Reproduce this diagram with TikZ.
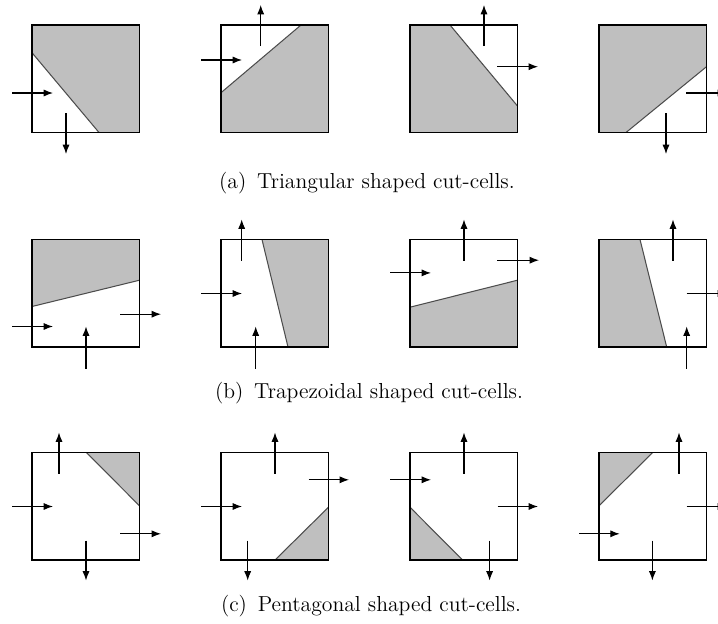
\documentclass[tikz,border=0pt]{standalone}
\usetikzlibrary{arrows.meta}
\begin{document}
\begin{tikzpicture}[x=0.53pt, y=-0.53pt,
  cell/.style={draw, line width=0.6pt},
  cutcell/.style={fill=black!25},
  cutline/.style={draw=black!70, line width=0.55pt},
  flux/.style={-{Latex[length=5pt,width=3.8pt]}, line width=0.55pt},
  caption/.style={font=\fontsize{11.5}{14}\selectfont, anchor=center}]
\useasboundingbox (0,0) rectangle (718,623);

% (a) triangular cut-cells
\begin{scope}[shift={(32,25)}]
\fill[cutcell] (0,27.7) -- (0,0) -- (107.5,0) -- (107.5,107.5) -- (67,107.5) -- cycle;
\draw[cutline] (0,27.7) -- (67,107.5);
\draw[cell] (0,0) rectangle (107.5,107.5);
\draw[flux] (-20,68) -- (21,68);
\draw[flux] (34,88) -- (34,129);
\end{scope}
\begin{scope}[shift={(221,25)}]
\fill[cutcell] (0,67.7) -- (80,0) -- (107.5,0) -- (107.5,107.5) -- (0,107.5) -- cycle;
\draw[cutline] (0,67.7) -- (80,0);
\draw[cell] (0,0) rectangle (107.5,107.5);
\draw[flux] (39.7,21) -- (39.7,-20);
\draw[flux] (-20,35) -- (21,35);
\end{scope}
\begin{scope}[shift={(410,25)}]
\fill[cutcell] (0,0) -- (40,0) -- (107.5,81) -- (107.5,107.5) -- (0,107.5) -- cycle;
\draw[cutline] (40,0) -- (107.5,81);
\draw[cell] (0,0) rectangle (107.5,107.5);
\draw[flux] (74,21) -- (74,-20);
\draw[flux] (87,41.7) -- (128,41.7);
\end{scope}
\begin{scope}[shift={(599,25)}]
\fill[cutcell] (0,0) -- (107.5,0) -- (107.5,41.7) -- (27,107.5) -- (0,107.5) -- cycle;
\draw[cutline] (107.5,41.7) -- (27,107.5);
\draw[cell] (0,0) rectangle (107.5,107.5);
\draw[flux] (87,68) -- (128,68);
\draw[flux] (67,88) -- (67,129);
\end{scope}
\node[caption] (capa) at (367,183) {(a)\enspace Triangular shaped cut-cells.};

% (b) trapezoidal cut-cells
\begin{scope}[shift={(32,239.5)}]
\fill[cutcell] (0,0) -- (107.5,0) -- (107.5,40.7) -- (0,67) -- cycle;
\draw[cutline] (0,67) -- (107.5,40.7);
\draw[cell] (0,0) rectangle (107.5,107.5);
\draw[flux] (-20,87) -- (21,87);
\draw[flux] (88,74.7) -- (129,74.7);
\draw[flux] (54,129) -- (54,87);
\end{scope}
\begin{scope}[shift={(221,239.5)}]
\fill[cutcell] (41,0) -- (107.5,0) -- (107.5,107.5) -- (67,107.5) -- cycle;
\draw[cutline] (41,0) -- (67,107.5);
\draw[cell] (0,0) rectangle (107.5,107.5);
\draw[flux] (20.7,21) -- (20.7,-20);
\draw[flux] (-20,54) -- (21,54);
\draw[flux] (34.7,129) -- (34.7,87);
\end{scope}
\begin{scope}[shift={(410,239.5)}]
\fill[cutcell] (0,67.7) -- (107.5,40.7) -- (107.5,107.5) -- (0,107.5) -- cycle;
\draw[cutline] (0,67.7) -- (107.5,40.7);
\draw[cell] (0,0) rectangle (107.5,107.5);
\draw[flux] (54,21) -- (54,-20);
\draw[flux] (-20,33.4) -- (21,33.4);
\draw[flux] (87,20.7) -- (129,20.7);
\end{scope}
\begin{scope}[shift={(599,239.5)}]
\fill[cutcell] (0,0) -- (41,0) -- (67.7,107.5) -- (0,107.5) -- cycle;
\draw[cutline] (41,0) -- (67.7,107.5);
\draw[cell] (0,0) rectangle (107.5,107.5);
\draw[flux] (74,21) -- (74,-20);
\draw[flux] (87.7,54) -- (128,54);
\draw[flux] (87.7,129) -- (87.7,87);
\end{scope}
\node[caption] (capb) at (369,393) {(b)\enspace Trapezoidal shaped cut-cells.};

% (c) pentagonal cut-cells
\begin{scope}[shift={(32,452.5)}]
\fill[cutcell] (54.4,0) -- (107.5,0) -- (107.5,53.3) -- cycle;
\draw[cutline] (54.4,0) -- (107.5,53.3);
\draw[cell] (0,0) rectangle (107.5,107.5);
\draw[flux] (27,21) -- (27,-20);
\draw[flux] (-20,54) -- (21,54);
\draw[flux] (88,81.3) -- (129,81.3);
\draw[flux] (54,88) -- (54,128);
\end{scope}
\begin{scope}[shift={(221,452.5)}]
\fill[cutcell] (107.5,54.7) -- (107.5,107.5) -- (54,107.5) -- cycle;
\draw[cutline] (107.5,54.7) -- (54,107.5);
\draw[cell] (0,0) rectangle (107.5,107.5);
\draw[flux] (54,21) -- (54,-20);
\draw[flux] (87.7,27.3) -- (128,27.3);
\draw[flux] (-20,54) -- (21,54);
\draw[flux] (26.7,88) -- (26.7,128);
\end{scope}
\begin{scope}[shift={(410,452.5)}]
\fill[cutcell] (0,54.7) -- (52.6,107.5) -- (0,107.5) -- cycle;
\draw[cutline] (0,54.7) -- (52.6,107.5);
\draw[cell] (0,0) rectangle (107.5,107.5);
\draw[flux] (54,21) -- (54,-20);
\draw[flux] (-20,27.3) -- (21,27.3);
\draw[flux] (87.6,54) -- (128,54);
\draw[flux] (79.6,88) -- (79.6,128);
\end{scope}
\begin{scope}[shift={(599,452.5)}]
\fill[cutcell] (0,0) -- (53.7,0) -- (0,53.3) -- cycle;
\draw[cutline] (53.7,0) -- (0,53.3);
\draw[cell] (0,0) rectangle (107.5,107.5);
\draw[flux] (80,21) -- (80,-20);
\draw[flux] (87.7,54) -- (128,54);
\draw[flux] (-20,81.3) -- (20.7,81.3);
\draw[flux] (53.4,88) -- (53.4,128);
\end{scope}
\node[caption] (capc) at (371,606) {(c)\enspace Pentagonal shaped cut-cells.};

\end{tikzpicture}
\end{document}
